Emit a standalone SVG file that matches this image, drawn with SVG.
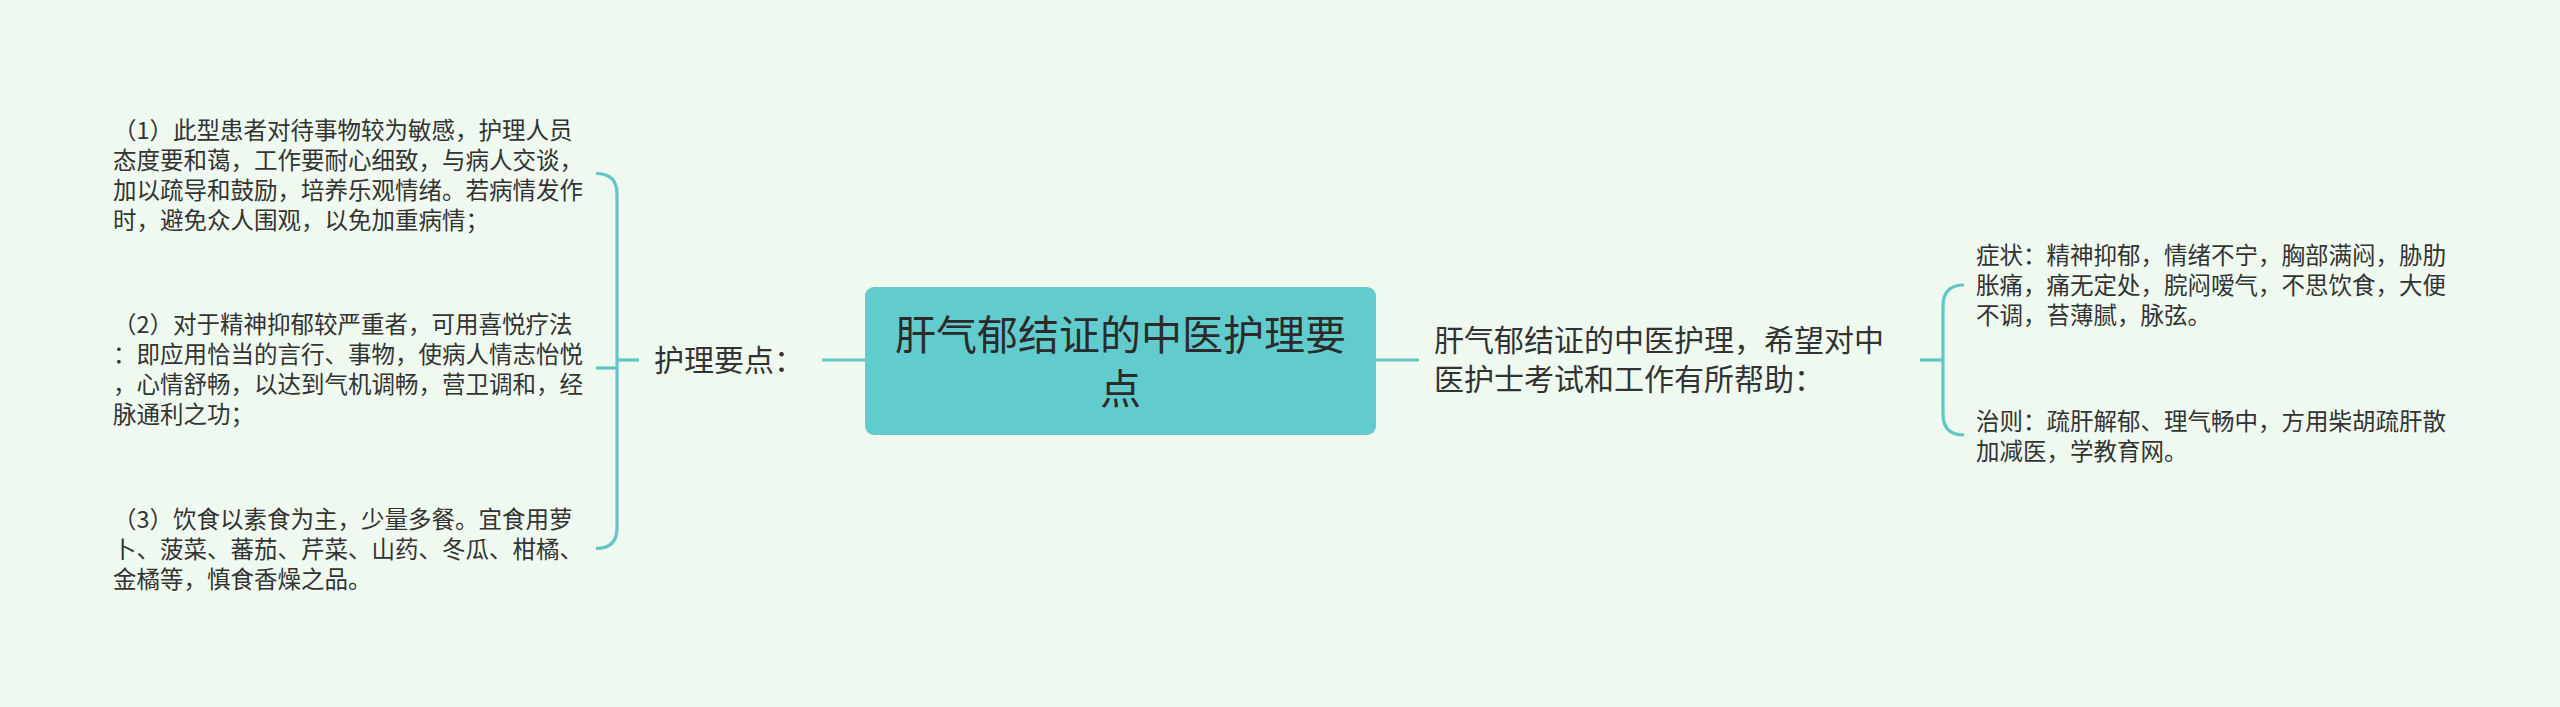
<svg xmlns="http://www.w3.org/2000/svg" width="2560" height="707" viewBox="0 0 2560 707">
<style>
text { font-family: "Noto Sans CJK SC", "Noto Sans", sans-serif; fill: #333333; }
.small { font-size: 23.5px; }
.mid { font-size: 30px; }
.title { font-size: 41px; fill: #2b2b2b; }
.conn { fill: none; stroke: #62C6C9; stroke-width: 3.2; stroke-linecap: butt; }
</style>
<rect x="0" y="0" width="2560" height="707" fill="#EFF9F0"/>
<g id="connectors">
  <path class="conn" d="M 596 173.5 C 610 173.5 617 180 617 194 V 528 C 617 542 610 548.5 596 548.5"/>
  <path class="conn" d="M 596 368 H 617"/>
  <path class="conn" d="M 617 360 H 639"/>
  <path class="conn" d="M 822 360 H 866"/>
  <path class="conn" d="M 1375 360 H 1419"/>
  <path class="conn" d="M 1920 360 H 1943"/>
  <path class="conn" d="M 1964 285 C 1950 285 1943 292 1943 306 V 414 C 1943 428 1950 435 1964 435"/>
</g>
<g id="root">
  <rect x="865" y="287" width="511" height="148" rx="9" ry="9" fill="#62CBCD"/>
  <text class="title" text-anchor="middle"><tspan x="1120.5" y="350">肝气郁结证的中医护理要</tspan><tspan x="1120.5" y="403.5">点</tspan></text>
</g>
<g id="nursing-points">
  <text class="mid" x="654" y="371">护理要点：</text>
</g>
<g id="item1">
  <text class="small"><tspan x="113" y="139">（1）此型患者对待事物较为敏感，护理人员</tspan><tspan x="113" y="169">态度要和蔼，工作要耐心细致，与病人交谈，</tspan><tspan x="113" y="199">加以疏导和鼓励，培养乐观情绪。若病情发作</tspan><tspan x="113" y="229">时，避免众人围观，以免加重病情；</tspan></text>
</g>
<g id="item2">
  <text class="small"><tspan x="113" y="333">（2）对于精神抑郁较严重者，可用喜悦疗法</tspan><tspan x="113" y="363">：即应用恰当的言行、事物，使病人情志怡悦</tspan><tspan x="113" y="393">，心情舒畅，以达到气机调畅，营卫调和，经</tspan><tspan x="113" y="423">脉通利之功；</tspan></text>
</g>
<g id="item3">
  <text class="small"><tspan x="113" y="528">（3）饮食以素食为主，少量多餐。宜食用萝</tspan><tspan x="113" y="558">卜、菠菜、蕃茄、芹菜、山药、冬瓜、柑橘、</tspan><tspan x="113" y="588">金橘等，慎食香燥之品。</tspan></text>
</g>
<g id="summary">
  <text class="mid"><tspan x="1434" y="351">肝气郁结证的中医护理，希望对中</tspan><tspan x="1434" y="390">医护士考试和工作有所帮助：</tspan></text>
</g>
<g id="symptoms">
  <text class="small"><tspan x="1976" y="264">症状：精神抑郁，情绪不宁，胸部满闷，胁肋</tspan><tspan x="1976" y="294">胀痛，痛无定处，脘闷嗳气，不思饮食，大便</tspan><tspan x="1976" y="324">不调，苔薄腻，脉弦。</tspan></text>
</g>
<g id="treatment">
  <text class="small"><tspan x="1976" y="430">治则：疏肝解郁、理气畅中，方用柴胡疏肝散</tspan><tspan x="1976" y="460">加减医，学教育网。</tspan></text>
</g>
</svg>
